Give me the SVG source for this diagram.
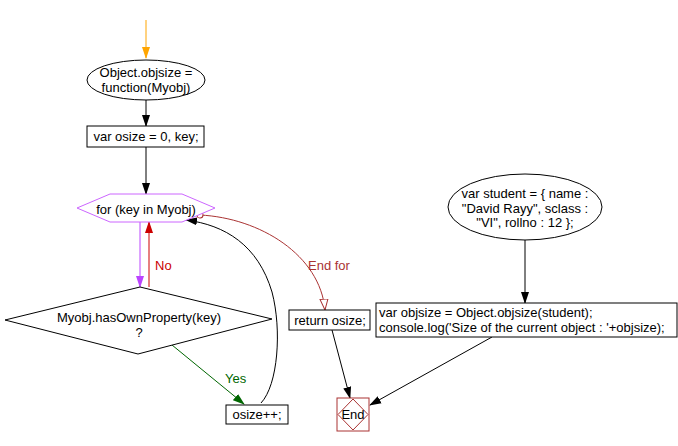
<svg xmlns="http://www.w3.org/2000/svg" width="678" height="446" viewBox="0 0 678 446">
<defs>
<style>
text{font-family:"Liberation Sans",Arial,sans-serif;font-size:13px;fill:#000}
.box{fill:#fff;stroke:#000;stroke-width:1}
.c{text-anchor:middle}
.ln{fill:none;stroke:#000;stroke-width:1}
</style>
<marker id="ab" markerWidth="12" markerHeight="10" refX="11" refY="5" orient="auto" markerUnits="userSpaceOnUse"><path d="M0,1 L12,5 L0,9 Z" fill="#000"/></marker>
<marker id="ao" markerWidth="12" markerHeight="10" refX="11" refY="5" orient="auto" markerUnits="userSpaceOnUse"><path d="M0,1 L12,5 L0,9 Z" fill="#ffa500"/></marker>
<marker id="ap" markerWidth="12" markerHeight="10" refX="11" refY="5" orient="auto" markerUnits="userSpaceOnUse"><path d="M0,1 L12,5 L0,9 Z" fill="#bb44ff"/></marker>
<marker id="ar" markerWidth="12" markerHeight="10" refX="11" refY="5" orient="auto" markerUnits="userSpaceOnUse"><path d="M0,1 L12,5 L0,9 Z" fill="#cc0000"/></marker>
<marker id="ag" markerWidth="12" markerHeight="10" refX="11" refY="5" orient="auto" markerUnits="userSpaceOnUse"><path d="M0,1 L12,5 L0,9 Z" fill="#006600"/></marker>
<marker id="ah" markerWidth="12" markerHeight="10" refX="11" refY="5" orient="auto" markerUnits="userSpaceOnUse"><path d="M0,1 L11,5 L0,9 Z" fill="#fff" stroke="#aa3333"/></marker>
<marker id="cs" markerWidth="8" markerHeight="8" refX="4" refY="4" orient="auto" markerUnits="userSpaceOnUse"><circle cx="4" cy="4" r="3" fill="#fff" stroke="#aa3333"/></marker>
</defs>
<g id="connectors">
<line x1="146" y1="20" x2="146" y2="58" stroke="#ffa500" marker-end="url(#ao)"/>
<line class="ln" x1="146" y1="100" x2="146" y2="126" marker-end="url(#ab)"/>
<line class="ln" x1="146" y1="147" x2="146" y2="194" marker-end="url(#ab)"/>
<line x1="140" y1="222" x2="140" y2="287" stroke="#bb44ff" marker-end="url(#ap)"/>
<line x1="149" y1="287" x2="149" y2="222" stroke="#cc0000" marker-end="url(#ar)"/>
<text x="155" y="270" style="fill:#cc0000">No</text>
<line x1="172" y1="345" x2="244" y2="404" stroke="#006600" marker-end="url(#ag)"/>
<text x="225" y="383" style="fill:#006600">Yes</text>
<path class="ln" d="M261,403 C278,385 282,330 272,292 C258,245 225,225 186,220" marker-end="url(#ab)"/>
<path d="M200,215 C260,218 320,255 325,310" fill="none" stroke="#aa3333" marker-start="url(#cs)" marker-end="url(#ah)"/>
<text x="308" y="270" style="fill:#aa3333">End for</text>
<line class="ln" x1="525" y1="240" x2="525" y2="303" marker-end="url(#ab)"/>
<line class="ln" x1="332" y1="330" x2="350" y2="398" marker-end="url(#ab)"/>
<line class="ln" x1="492" y1="337" x2="370" y2="405" marker-end="url(#ab)"/>
</g>
<g id="start">
<ellipse class="box" cx="146" cy="80" rx="59" ry="20"/>
<text class="c" x="146" y="77">Object.objsize =</text>
<text class="c" x="146" y="92">function(Myobj)</text>
</g>
<g id="init">
<rect class="box" x="87" y="126" width="117" height="21"/>
<text class="c" x="146" y="141">var osize = 0, key;</text>
</g>
<g id="loop">
<polygon points="77,208 110,194 182,194 215,208 182,222 110,222" fill="#fff" stroke="#cc66ff"/>
<text class="c" x="146" y="214">for (key in Myobj)</text>
</g>
<g id="cond">
<polygon class="box" points="5,320 140,287 272,319 138,354"/>
<text class="c" x="139" y="322">Myobj.hasOwnProperty(key)</text>
<text class="c" x="139" y="337">?</text>
</g>
<g id="inc">
<rect class="box" x="226" y="405" width="62" height="19"/>
<text class="c" x="257" y="419">osize++;</text>
</g>
<g id="ret">
<rect class="box" x="289" y="310" width="81" height="20"/>
<text class="c" x="330" y="325">return osize;</text>
</g>
<g id="student">
<ellipse class="box" cx="525" cy="207" rx="77" ry="33"/>
<text class="c" x="525" y="198">var student = { name :</text>
<text class="c" x="525" y="213">"David Rayy", sclass :</text>
<text class="c" x="525" y="227">"VI", rollno : 12 };</text>
</g>
<g id="call">
<rect class="box" x="376" y="303" width="301" height="34"/>
<text x="379" y="317">var objsize = Object.objsize(student);</text>
<text x="379" y="332">console.log('Size of the current object : '+objsize);</text>
</g>
<g id="end">
<rect x="337" y="398" width="32" height="33" fill="#fff" stroke="#aa3333"/>
<polygon points="353,399 368,414.5 353,430 338,414.5" fill="none" stroke="#aa3333"/>
<text class="c" x="353" y="419">End</text>
</g>
</svg>
